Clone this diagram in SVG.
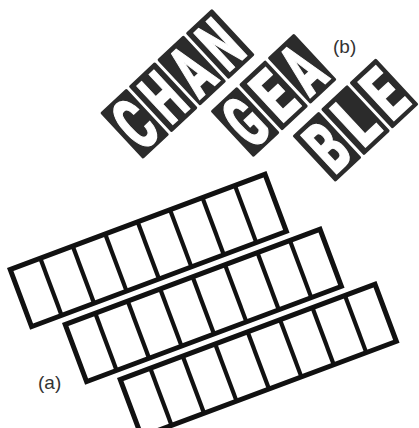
<svg xmlns="http://www.w3.org/2000/svg" width="419" height="428" viewBox="0 0 419 428">
<defs>
<style>
.tile{fill:#2b2b2b}
.let{fill:#fff;stroke:#fff;stroke-width:0.8;font-family:Roboto,"Liberation Sans",sans-serif;font-weight:900;font-size:41px;text-anchor:middle}
.frame{fill:#fff;stroke:#111;stroke-width:5}
.rung{stroke:#111;stroke-width:4.2}
.lbl{font-family:"Liberation Sans",Arial,sans-serif;font-size:19px;fill:#333}
</style>
<g id="ladderShape">
<rect class="frame" x="2.5" y="2.5" width="272" height="61"/>
<line class="rung" x1="34.6" y1="3" x2="34.6" y2="63"/>
<line class="rung" x1="69.2" y1="3" x2="69.2" y2="63"/>
<line class="rung" x1="103.9" y1="3" x2="103.9" y2="63"/>
<line class="rung" x1="138.5" y1="3" x2="138.5" y2="63"/>
<line class="rung" x1="173.1" y1="3" x2="173.1" y2="63"/>
<line class="rung" x1="207.7" y1="3" x2="207.7" y2="63"/>
<line class="rung" x1="242.4" y1="3" x2="242.4" y2="63"/>
</g>
</defs>
<rect width="419" height="428" fill="#fff"/>
<g id="ladders">
<g id="ladder1" transform="translate(7,268) rotate(-20.5)"><use href="#ladderShape"/></g>
<g id="ladder2" transform="translate(62,323) rotate(-20.5)"><use href="#ladderShape"/></g>
<g id="ladder3" transform="translate(117,378) rotate(-20.5)"><use href="#ladderShape"/></g>
</g>
<g id="word" transform="translate(100,113) rotate(-43)">
<g id="tC"><rect class="tile" x="0" y="0" width="36" height="63" rx="1.5"/><text class="let" transform="scale(1,1.8)" x="18" y="32.2" textLength="28" lengthAdjust="spacingAndGlyphs">C</text></g>
<g id="tH"><rect class="tile" x="39" y="0" width="36" height="63" rx="1.5"/><text class="let" transform="scale(1,1.8)" x="57" y="32.2" textLength="28" lengthAdjust="spacingAndGlyphs">H</text></g>
<g id="tA1"><rect class="tile" x="78" y="0" width="36" height="63" rx="1.5"/><text class="let" transform="scale(1,1.8)" x="96" y="32.2" textLength="28" lengthAdjust="spacingAndGlyphs">A</text></g>
<g id="tN"><rect class="tile" x="117" y="0" width="36" height="63" rx="1.5"/><text class="let" transform="scale(1,1.8)" x="135" y="32.2" textLength="28" lengthAdjust="spacingAndGlyphs">N</text></g>
<g id="tG"><rect class="tile" x="82" y="74" width="36" height="63" rx="1.5"/><text class="let" transform="scale(1,1.8)" x="100" y="73.3" textLength="28" lengthAdjust="spacingAndGlyphs">G</text></g>
<g id="tE1"><rect class="tile" x="121" y="74" width="36" height="63" rx="1.5"/><text class="let" transform="scale(1,1.8)" x="139" y="73.3" textLength="28" lengthAdjust="spacingAndGlyphs">E</text></g>
<g id="tA2"><rect class="tile" x="160" y="74" width="36" height="63" rx="1.5"/><text class="let" transform="scale(1,1.8)" x="178" y="73.3" textLength="28" lengthAdjust="spacingAndGlyphs">A</text></g>
<g id="tB"><rect class="tile" x="125" y="148" width="36" height="63" rx="1.5"/><text class="let" transform="scale(1,1.8)" x="143" y="114.4" textLength="28" lengthAdjust="spacingAndGlyphs">B</text></g>
<g id="tL"><rect class="tile" x="164" y="148" width="36" height="63" rx="1.5"/><text class="let" transform="scale(1,1.8)" x="182" y="114.4" textLength="28" lengthAdjust="spacingAndGlyphs">L</text></g>
<g id="tE2"><rect class="tile" x="203" y="148" width="36" height="63" rx="1.5"/><text class="let" transform="scale(1,1.8)" x="221" y="114.4" textLength="28" lengthAdjust="spacingAndGlyphs">E</text></g>
</g>
<text id="labelB" class="lbl" x="333" y="53">(b)</text>
<text id="labelA" class="lbl" x="38" y="389">(a)</text>
</svg>
